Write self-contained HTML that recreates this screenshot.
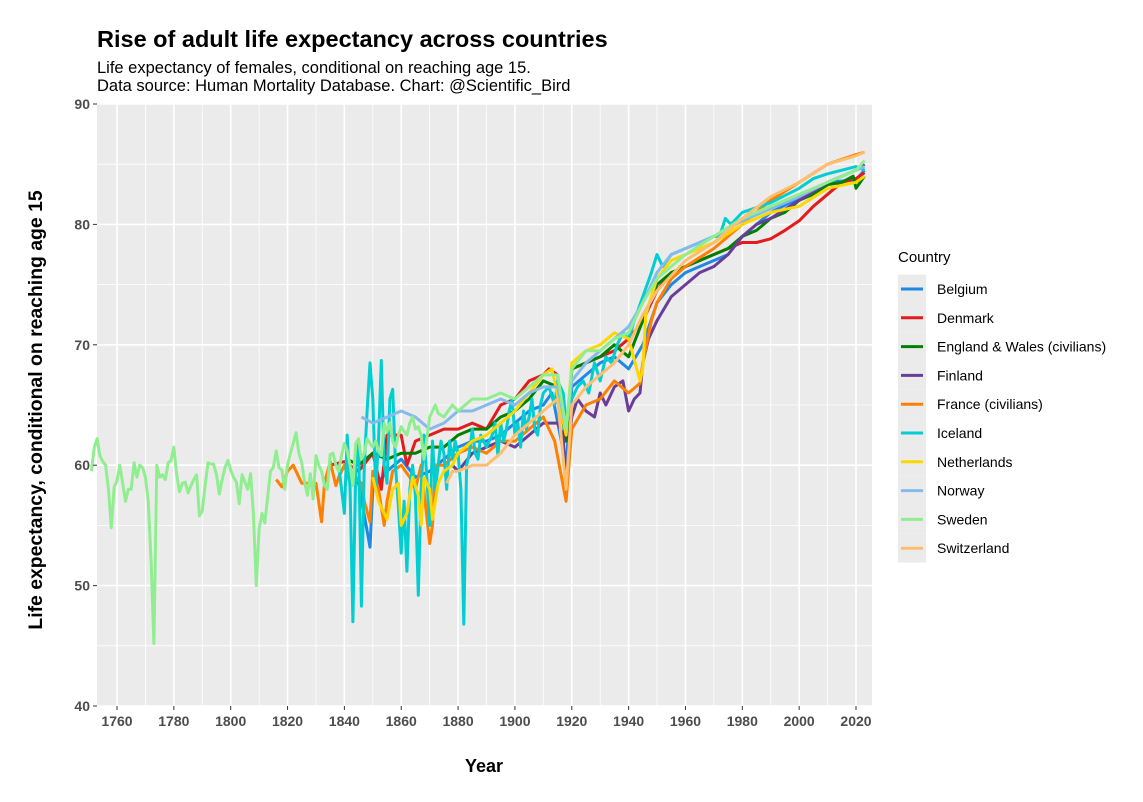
<!DOCTYPE html>
<html><head><meta charset="utf-8"><style>
body{margin:0;background:#fff;font-family:"Liberation Sans",sans-serif}
svg text{font-family:"Liberation Sans",sans-serif}
</style></head><body>
<svg id="c" width="1143" height="797" xmlns="http://www.w3.org/2000/svg">
<text x="97" y="47" font-size="23.5" font-weight="bold" fill="#000">Rise of adult life expectancy across countries</text>
<text x="97" y="73" font-size="16.5" fill="#000">Life expectancy of females, conditional on reaching age 15.</text>
<text x="97" y="91" font-size="16.5" fill="#000">Data source: Human Mortality Database. Chart: @Scientific_Bird</text>
<rect x="97" y="104" width="775" height="602" fill="#ebebeb"/>
<g id="grid"></g><g id="series"></g><g id="axes"></g>
<text x="484" y="772" font-size="18" font-weight="bold" text-anchor="middle">Year</text>
<text transform="translate(42,410) rotate(-90)" font-size="19.4" font-weight="bold" text-anchor="middle">Life expectancy, conditional on reaching age 15</text>
<text x="898" y="262" font-size="15">Country</text>
<g id="legend"></g>
</svg>
<script>
const countries=["Belgium","Denmark","England & Wales (civilians)","Finland","France (civilians)","Iceland","Netherlands","Norway","Sweden","Switzerland"];
const colors=["#1f88e5","#e41a1c","#008000","#6a3d9a","#ff7f00","#00ced1","#ffd700","#85baeb","#90ee90","#fdbf6f"];
const xTicks=[1760,1780,1800,1820,1840,1860,1880,1900,1920,1940,1960,1980,2000,2020];
const yTicks=[40,50,60,70,80,90];
const belgiumYears=[1841,1845,1849,1850,1855,1860,1865,1870,1875,1880,1885,1890,1895,1900,1905,1910,1913,1918,1920,1925,1930,1935,1940,1945,1950,1955,1960,1965,1970,1975,1980,1985,1990,2000,2010,2020,2023];
const belgiumValues=[59,58.5,53.2,58,59.5,60.5,59,59.5,60.5,61.5,62,62,62.5,63.5,64.5,65,66,60,66.5,67.5,68.5,69,68,70,73.5,75,76,76.5,77,77.5,79,80,81,82.2,83.5,83.7,84.5];
const denmarkYears=[1835,1840,1845,1850,1853,1855,1860,1862,1865,1870,1875,1880,1885,1890,1895,1900,1905,1910,1912,1915,1918,1920,1925,1930,1935,1940,1945,1950,1955,1960,1965,1970,1975,1980,1985,1990,1995,2000,2005,2010,2015,2020,2023];
const denmarkValues=[60,60.3,59.5,61,58,62.5,62.5,60,62,62.5,63,63,63.5,63,65,65.5,67,67.5,68,67.5,62,68,68.5,69,69.5,70.5,72,74.5,76,76.5,77,77.5,78,78.5,78.5,78.8,79.5,80.3,81.5,82.5,83.5,83.8,84.3];
const englandYears=[1841,1845,1850,1855,1860,1865,1870,1875,1880,1885,1890,1895,1900,1905,1910,1915,1918,1920,1925,1930,1935,1940,1945,1950,1955,1960,1965,1970,1975,1980,1985,1990,1995,2000,2005,2010,2015,2019,2020,2023];
const englandValues=[60.5,60,61,60.5,61,61,61.5,61.5,62.5,63,63,64,64.5,65.5,67,66.5,62,68,68.5,69,70,69,72,75,76,76.5,77,77.5,78,79,79.5,80.5,81,82,82.5,83.3,83.5,84,83,84];
const finlandYears=[1878,1880,1885,1890,1895,1900,1905,1910,1915,1917,1918,1919,1920,1922,1925,1928,1930,1932,1935,1938,1940,1942,1944,1945,1947,1950,1955,1960,1965,1970,1975,1980,1985,1990,2000,2010,2020,2023];
const finlandValues=[60,59.5,61,61.5,62,61.5,62.5,63.5,63.5,62.5,57.5,62,64,65.5,64.5,64,66,65,66.5,67,64.5,65.5,66,68.5,70.5,72,74,75,76,76.5,77.5,79,80,80.5,82,83.5,84.5,85];
const franceYears=[1816,1818,1820,1822,1825,1828,1830,1832,1833,1835,1837,1838,1840,1842,1844,1846,1847,1849,1850,1852,1854,1855,1857,1860,1863,1865,1867,1870,1871,1872,1875,1880,1885,1890,1895,1900,1905,1910,1914,1918,1920,1925,1930,1935,1940,1944,1945,1948,1950,1955,1960,1970,1980,1990,2000,2010,2020,2023];
const franceValues=[58.8,58.2,59.5,60,58.5,58.5,58.5,55.3,58.5,60.3,58.3,59,60,58.5,59,58.5,57,55.3,59.5,58,55,57,59.5,60,59,58,60,53.5,55,60,60,61,61.5,61,62,62,63,64,62,57,63,65,65.5,67,66,66.8,68.5,72,73.5,75.5,76.5,78,80,82,83.5,85,85.8,86];
const icelandYears=[1838,1840,1841,1842,1843,1844,1845,1846,1847,1848,1849,1850,1851,1852,1853,1854,1855,1856,1857,1858,1859,1860,1861,1862,1863,1864,1865,1866,1867,1868,1869,1870,1871,1872,1873,1874,1875,1876,1877,1878,1879,1880,1881,1882,1883,1884,1885,1886,1887,1888,1889,1890,1891,1892,1893,1894,1895,1896,1897,1898,1899,1900,1901,1902,1903,1904,1905,1906,1907,1908,1909,1910,1912,1914,1915,1917,1918,1920,1922,1924,1926,1928,1930,1932,1934,1936,1938,1940,1942,1945,1948,1950,1952,1955,1960,1965,1970,1972,1974,1976,1978,1980,1990,2000,2005,2010,2020,2023];
const icelandValues=[60,56,62.5,58,47,60,62,48.3,60,64.5,68.5,65.5,58,62,68.7,60,58.5,65.5,66.3,60,56.5,52.7,57,51.2,58,60,57.5,49.2,58,62.5,59,55,62,58,60,62,61,58,62,60.5,62,61,58,46.8,60,61,63,61,60.5,62.5,62,61.5,62,62.5,63.5,60.8,63.5,62,63,64.5,65.5,62.5,63.5,61.5,64.5,63,64,65.5,63,62.5,65,66,66.5,65,67,66,63.5,65.5,66.5,67,66,68.5,67,69,68.5,70,71,70.5,72,74,76,77.5,76.5,77.5,78,78.5,79,79,80.5,80,80.5,81,81.8,83,83.8,84.2,84.8,84.5];
const netherlandsYears=[1850,1852,1855,1857,1859,1860,1862,1864,1866,1867,1868,1870,1871,1873,1875,1878,1880,1885,1890,1895,1900,1905,1910,1913,1918,1920,1925,1930,1935,1940,1944,1945,1946,1950,1955,1960,1970,1980,1990,2000,2010,2020,2023];
const netherlandsValues=[59,57,55.5,58,58.5,55,56,59,57.5,55,59,58,55.5,58.5,59.5,60,61,62,62.5,63.5,64.5,66,67.5,68,62.5,68.5,69.5,70,71,70.5,67,68,72.5,75.5,77,77.5,78.5,80,81,81.5,83,83.5,84];
const norwayYears=[1846,1850,1855,1860,1865,1870,1875,1880,1885,1890,1895,1900,1905,1910,1915,1918,1920,1925,1930,1935,1940,1945,1950,1955,1960,1970,1980,1990,2000,2010,2020,2023];
const norwayValues=[64,63.5,64,64.5,64,63,63.5,64.5,64.5,65,65.5,65,66,66.5,66.5,63,67,68.5,69.5,70.5,71.5,73.5,76,77.5,78,79,80.3,81.3,82.3,83.5,84.5,84.8];
const swedenYears=[1751,1752,1753,1754,1755,1756,1757,1758,1759,1760,1761,1762,1763,1764,1765,1766,1767,1768,1769,1770,1771,1772,1773,1774,1775,1776,1777,1778,1779,1780,1781,1782,1783,1784,1785,1786,1787,1788,1789,1790,1791,1792,1793,1794,1795,1796,1797,1798,1799,1800,1801,1802,1803,1804,1805,1806,1807,1808,1809,1810,1811,1812,1813,1814,1815,1816,1817,1818,1819,1820,1821,1822,1823,1824,1825,1826,1827,1828,1829,1830,1831,1832,1833,1834,1835,1836,1837,1838,1839,1840,1841,1842,1843,1844,1845,1846,1847,1848,1849,1850,1851,1852,1853,1854,1855,1856,1857,1858,1859,1860,1861,1862,1863,1864,1865,1866,1867,1868,1869,1870,1871,1872,1873,1875,1878,1880,1885,1890,1895,1900,1905,1910,1915,1918,1920,1925,1930,1935,1940,1945,1950,1955,1960,1970,1980,1990,2000,2010,2020,2023];
const swedenValues=[59.5,61.5,62.2,60.8,60.3,60,58,54.8,58.2,58.7,60,58.5,57,58,58,60.2,59,60,59.8,59,57,52,45.2,60,59,59.2,58.8,60.2,60.4,61.5,59.2,57.8,58.5,58.6,57.7,58.3,58.8,59.2,55.8,56.2,58.3,60.2,60.1,60.1,59.2,57.6,58.8,59.8,60.4,59.6,59,58.6,56.8,59.2,58.6,58,59.3,56,50,54.7,56,55.2,57.3,59.5,59.8,61.2,59.8,59.6,58,60,61,61.8,62.7,61,60.2,58.6,57.5,59.3,57.2,60.8,60,59.5,58.3,58,60.9,61,60,59.5,60.8,61.8,61.2,60,58.3,61.8,62.2,60.5,61,62.2,61.8,61.5,62,61.2,60.8,63.5,62.8,63.5,62,61.5,62.5,63.2,62.8,62.5,63.5,64,63,63.2,62.5,60.5,62.2,64,64.5,65,64.3,64,65,64.5,65.5,65.5,66,65.5,66.5,67.5,67.5,63,68,69.5,69.5,70.5,71,73.5,75.5,76.5,77.5,79,80.5,81.5,82.5,83.5,84.5,85.3];
const switzerlandYears=[1876,1878,1880,1885,1890,1895,1900,1905,1910,1915,1918,1920,1925,1930,1935,1940,1945,1950,1960,1970,1980,1990,2000,2010,2020,2023];
const switzerlandValues=[58.5,59.5,59.5,60,60,61,62.5,63.5,64.5,65.5,58,65,66.5,67.5,68.5,70,72.5,74.5,77,78.5,80.5,82.3,83.5,85,85.7,86];

const NS="http://www.w3.org/2000/svg";
const X=y=>117+(y-1760)*(739/260);
const Y=v=>104+(90-v)*(602/50);
const L=97,R=872,T=104,B=706;
function mk(tag,attrs,parent){const e=document.createElementNS(NS,tag);for(const k in attrs)e.setAttribute(k,attrs[k]);parent.appendChild(e);return e;}
const grid=document.getElementById('grid'),axes=document.getElementById('axes');
for(let i=0;i<yTicks.length;i++){const v=yTicks[i];
 if(i<yTicks.length-1){const m=mk('line',{x1:L,x2:R,y1:Y(v+5),y2:Y(v+5),stroke:'#fff','stroke-width':0.8},grid);
 
 }
 const g=mk('line',{x1:L,x2:R,y1:Y(v),y2:Y(v),stroke:'#fff','stroke-width':1.6},grid);
 
 
 mk('line',{x1:L-4,x2:L,y1:Y(v),y2:Y(v),stroke:'#333','stroke-width':1},axes);
 const t=mk('text',{x:L-7,y:Y(v)+5,'text-anchor':'end','font-size':14,'font-weight':'bold',fill:'#4d4d4d'},axes);t.textContent=v;
 
 }
for(const yr of xTicks){
 for(const mm of [yr-10]){if(X(mm)>L){const m=mk('line',{x1:X(mm),x2:X(mm),y1:T,y2:B,stroke:'#fff','stroke-width':0.8},grid);
 
 }}
 const g=mk('line',{x1:X(yr),x2:X(yr),y1:T,y2:B,stroke:'#fff','stroke-width':1.6},grid);
 
 
 mk('line',{x1:X(yr),x2:X(yr),y1:B,y2:B+4,stroke:'#333','stroke-width':1},axes);
 const t=mk('text',{x:X(yr),y:B+20,'text-anchor':'middle','font-size':14,'font-weight':'bold',fill:'#4d4d4d'},axes);t.textContent=yr;
 
 }
const yearsArr=[belgiumYears,denmarkYears,englandYears,finlandYears,franceYears,icelandYears,netherlandsYears,norwayYears,swedenYears,switzerlandYears];
const valsArr=[belgiumValues,denmarkValues,englandValues,finlandValues,franceValues,icelandValues,netherlandsValues,norwayValues,swedenValues,switzerlandValues];
const sg=document.getElementById('series'),lg=document.getElementById('legend');
countries.forEach((c,i)=>{
 const ys=yearsArr[i],vs=valsArr[i];
 const d=ys.map((y,j)=>(j?'L':'M')+X(y).toFixed(1)+','+Y(vs[j]).toFixed(1)).join('');
 const p=mk('path',{d:d,fill:'none',stroke:colors[i],'stroke-width':3,'stroke-linejoin':'round'},sg);
 
 
 const ky=289+i*28.8;
 const g=mk('g',{},lg);
 
 
 mk('rect',{x:898,y:ky-14.4,width:28,height:28.8,fill:'#ebebeb'},g);
 mk('line',{x1:901,x2:923,y1:ky,y2:ky,stroke:colors[i],'stroke-width':3},g);
 const t=mk('text',{x:937,y:ky+5,'font-size':14},g);t.textContent=c;
});
</script>
</body></html>
